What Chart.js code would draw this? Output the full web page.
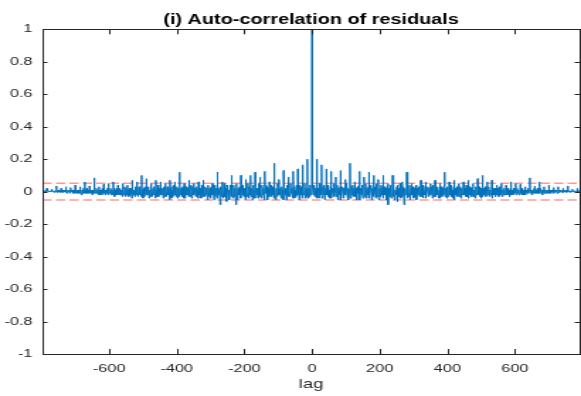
<!DOCTYPE html>
<html>
<head>
<meta charset="utf-8">
<script src="https://cdn.jsdelivr.net/npm/chart.js@4"></script>
<style>
  html, body { margin: 0; padding: 0; background: #fff; overflow: hidden; }
</style>
</head>
<body>
<!-- drawn narrow, then stretched sideways like the original figure -->
<canvas id="acfChart" width="410" height="396" style="display:block;width:581px;height:396px"></canvas>
<script>
/* autocorrelation at positive lags; one row = one 14-lag period,
   values taken at the offsets below inside each period */
const periodLen = 14;
const rowOffsets = [0, 1, 4, 6, 8, 10, 13];
const acfPos = [
  1.000, 0.03, -0.02, 0.04, -0.03, 0.02, -0.04,
  0.200, -0.03, 0.02, -0.04, 0.05, -0.02, 0.01,
  0.165, -0.04, 0.03, -0.02, 0.04, -0.05, 0.02,
  0.140, -0.02, 0.04, -0.03, 0.01, -0.04, 0.03,
  0.125, -0.04, 0.02, -0.01, 0.05, -0.03, 0.02,
  0.090, -0.03, 0.04, -0.05, 0.02, -0.02, 0.03,
  0.130, -0.05, 0.01, 0.03, -0.04, 0.02, -0.02,
  0.075, -0.02, 0.05, -0.03, 0.02, -0.05, 0.01,
  0.175, -0.04, 0.03, -0.02, 0.04, -0.03, 0.02,
  0.060, -0.03, 0.02, -0.05, 0.03, -0.01, 0.04,
  0.125, -0.05, 0.02, -0.02, 0.04, -0.04, 0.01,
  0.090, -0.03, 0.05, -0.04, 0.02, -0.02, 0.03,
  0.120, -0.04, 0.01, 0.04, -0.05, 0.02, -0.03,
  0.100, -0.02, 0.03, -0.04, 0.05, -0.03, 0.01,
  0.075, -0.05, 0.02, -0.03, 0.04, -0.02, 0.03,
  0.100, -0.04, 0.03, -0.02, 0.02, -0.05, 0.04,
  0.050, -0.08, 0.02, -0.03, 0.04, -0.04, 0.02,
  0.100, -0.03, 0.04, -0.05, 0.01, -0.02, 0.03,
  0.040, -0.06, 0.02, -0.03, 0.05, -0.04, 0.01,
  0.060, -0.03, 0.03, -0.08, 0.02, -0.02, 0.04,
  0.120, -0.04, 0.02, -0.03, 0.04, -0.05, 0.02,
  0.050, -0.02, 0.03, -0.04, 0.02, -0.03, 0.04,
  0.040, -0.05, 0.02, -0.02, 0.03, -0.03, 0.01,
  0.070, -0.03, 0.04, -0.04, 0.02, -0.02, 0.03,
  0.060, -0.04, 0.01, 0.03, -0.03, 0.02, -0.02,
  0.050, -0.02, 0.03, -0.04, 0.04, -0.03, 0.02,
  0.070, -0.03, 0.02, -0.02, 0.03, -0.04, 0.01,
  0.050, -0.04, 0.03, -0.03, 0.02, -0.02, 0.04,
  0.120, -0.03, 0.02, -0.04, 0.03, -0.03, 0.02,
  0.060, -0.02, 0.04, -0.03, 0.01, -0.04, 0.03,
  0.070, -0.05, 0.02, -0.02, 0.03, -0.03, 0.01,
  0.050, -0.03, 0.03, -0.04, 0.02, -0.02, 0.03,
  0.060, -0.02, 0.02, -0.03, 0.04, -0.03, 0.01,
  0.070, -0.04, 0.03, -0.02, 0.02, -0.03, 0.02,
  0.050, -0.03, 0.01, -0.04, 0.03, -0.02, 0.02,
  0.080, -0.02, 0.03, -0.03, 0.02, -0.04, 0.01,
  0.100, -0.03, 0.02, -0.02, 0.03, -0.03, 0.02,
  0.060, -0.02, 0.03, -0.03, 0.01, -0.02, 0.03,
  0.070, -0.04, 0.02, -0.02, 0.02, -0.03, 0.01,
  0.040, -0.02, 0.02, -0.03, 0.03, -0.02, 0.01,
  0.050, -0.03, 0.01, -0.02, 0.02, -0.02, 0.02,
  0.040, -0.02, 0.02, -0.02, 0.01, -0.03, 0.02,
  0.060, -0.02, 0.01, -0.02, 0.02, -0.01, 0.02,
  0.050, -0.02, 0.02, -0.01, 0.01, -0.02, 0.01,
  0.045, -0.01, 0.02, -0.02, 0.01, -0.02, 0.01,
  0.030, -0.02, 0.01, -0.01, 0.02, -0.01, 0.01,
  0.085, -0.01, 0.01, -0.02, 0.01, -0.01, 0.02,
  0.035, -0.01, 0.01, -0.01, 0.02, -0.01, 0.01,
  0.060, -0.01, 0.02, -0.01, 0.01, -0.02, 0.01,
  0.030, -0.01, 0.01, -0.01, 0.01, -0.01, 0.01,
  0.040, -0.01, 0.01, -0.01, 0.01, 0.00, 0.01,
  0.025, -0.01, 0.01, 0.00, 0.01, -0.01, 0.01,
  0.030, -0.005, 0.01, 0.00, 0.01, -0.005, 0.005,
  0.020, -0.005, 0.005, 0.00, 0.01, -0.005, 0.005,
  0.035, 0.00, 0.005, -0.005, 0.005, 0.00, 0.005,
  0.015, 0.00, 0.005, 0.00, 0.005, 0.00, 0.005,
  0.020, 0.00, 0.005, 0.00, 0.005, 0.00, 0.005,
  0.010
];
const confBounds = [0.052, -0.052];
const xTicks = [-600, -400, -200, 0, 200, 400, 600];
const yTicks = [-1, -0.8, -0.6, -0.4, -0.2, 0, 0.2, 0.4, 0.6, 0.8, 1];
const xMin = -797, xMax = 791;

const lagOf = (i) => Math.floor(i / rowOffsets.length) * periodLen + rowOffsets[i % rowOffsets.length];

// acf is symmetric, so negative lags reuse the same values
let acfPoints = [];
for (let i = acfPos.length - 1; i > 0; i--) acfPoints.push({x: -lagOf(i), y: acfPos[i]});
for (let i = 0; i < acfPos.length; i++) acfPoints.push({x: lagOf(i), y: acfPos[i]});

const confSets = confBounds.map(b => ({
  data: [{x: xMin, y: b}, {x: xMax, y: b}],
  borderColor: 'rgba(255, 70, 70, 0.55)',
  borderWidth: 1.5,
  borderDash: [6.5, 3],
  pointRadius: 0,
  order: 2
}));

/* matlab style box with inward ticks */
const boxTicks = {
  id: 'boxTicks',
  afterDatasetsDraw(chart) {
    const {ctx, chartArea: a, scales: {x, y}} = chart;
    ctx.save();
    ctx.strokeStyle = '#262626';
    ctx.lineWidth = 1;
    ctx.beginPath();
    xTicks.forEach(v => {
      let px = Math.round(x.getPixelForValue(v)) + 0.5;
      ctx.moveTo(px, a.bottom); ctx.lineTo(px, a.bottom - 5);
      ctx.moveTo(px, a.top); ctx.lineTo(px, a.top + 5);
    });
    yTicks.forEach(v => {
      let py = Math.round(y.getPixelForValue(v)) + 0.5;
      ctx.moveTo(a.left, py); ctx.lineTo(a.left + 3.5, py);
      ctx.moveTo(a.right, py); ctx.lineTo(a.right - 3.5, py);
    });
    ctx.stroke();
    ctx.strokeRect(Math.round(a.left) + 0.5, Math.round(a.top) + 0.5,
      Math.round(a.right - a.left), Math.round(a.bottom - a.top));
    ctx.restore();
  }
};

Chart.defaults.font.family = '"Liberation Sans", Arial, sans-serif';
Chart.defaults.color = '#262626';

var ctx = document.getElementById('acfChart').getContext('2d');
new Chart(ctx, {
  type: 'line',
  data: {
    datasets: [{
      data: acfPoints,
      borderColor: '#0072BD',
      borderWidth: 1,
      pointRadius: 0,
      tension: 0,
      order: 1
    }].concat(confSets)
  },
  options: {
    responsive: false,
    animation: false,
    events: [],
    layout: { padding: { left: 0, right: 1, top: 0, bottom: 0 } },
    plugins: {
      legend: { display: false },
      tooltip: { enabled: false },
      title: {
        display: true,
        fullSize: false,
        text: '(i) Auto-correlation of residuals',
        color: '#000',
        font: { size: 14, weight: 'bold' },
        padding: { top: 12, bottom: 0.5 }
      }
    },
    scales: {
      x: {
        type: 'linear',
        min: xMin,
        max: xMax,
        grid: { display: false, drawTicks: false },
        border: { display: false },
        afterBuildTicks: (axis) => { axis.ticks = xTicks.map(v => ({value: v})); },
        afterFit: (axis) => { axis.height = 42; },
        ticks: { font: { size: 11.5 }, padding: 8, maxRotation: 0, callback: (v) => String(v) },
        title: { display: true, text: 'lag', font: { size: 13 }, padding: { top: 0, bottom: 4 } }
      },
      y: {
        min: -1,
        max: 1,
        grid: { display: false, drawTicks: false },
        border: { display: false },
        afterBuildTicks: (axis) => { axis.ticks = yTicks.map(v => ({value: v})); },
        afterFit: (axis) => { axis.width = 30; },
        ticks: { font: { size: 11.5 }, padding: 7, callback: (v) => String(Math.round(v * 10) / 10) }
      }
    }
  },
  plugins: [boxTicks]
});
</script>
</body>
</html>
